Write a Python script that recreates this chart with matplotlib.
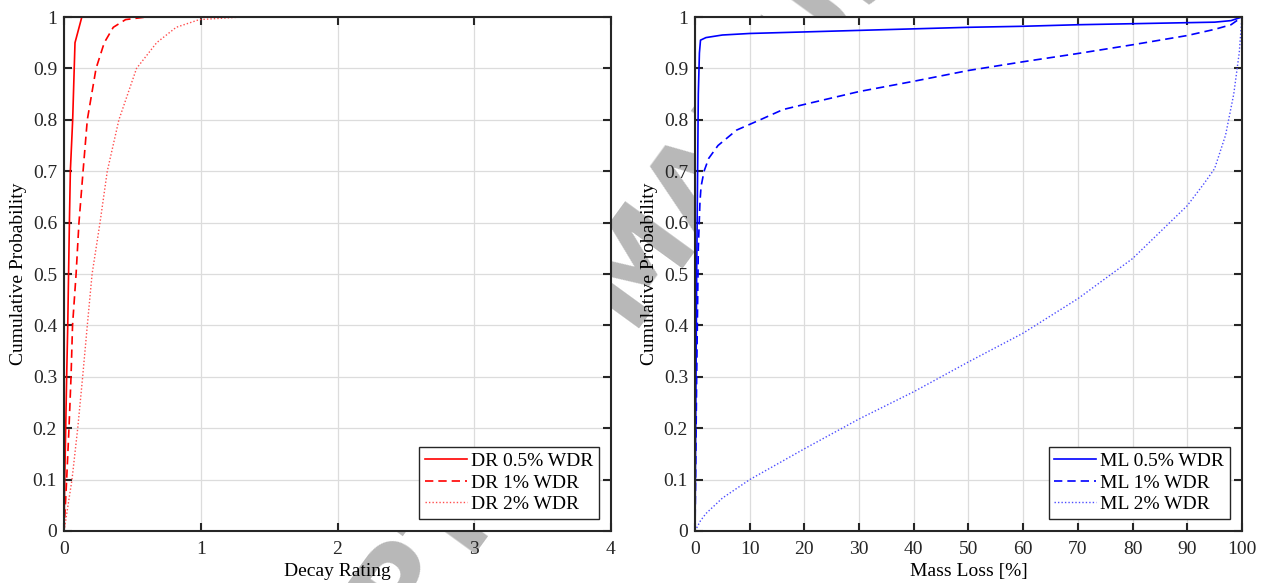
import matplotlib
matplotlib.use("Agg")
import matplotlib.pyplot as plt
from matplotlib.ticker import MultipleLocator

# decay rating CDFs (left panel)
dr_05_x = [0, 0.005, 0.012, 0.019, 0.027, 0.033, 0.039, 0.046, 0.063, 0.08, 0.13, 4]
dr_05_y = [0, 0.1, 0.2, 0.3, 0.4, 0.5, 0.6, 0.7, 0.8, 0.95, 1.0, 1.0]
dr_1_x = [0, 0.019, 0.036, 0.051, 0.062, 0.088, 0.109, 0.139, 0.17, 0.234, 0.294, 0.36, 0.45, 0.6, 4]
dr_1_y = [0, 0.1, 0.2, 0.3, 0.4, 0.5, 0.6, 0.7, 0.8, 0.9, 0.95, 0.98, 0.995, 1.0, 1.0]
dr_2_x = [0, 0.058, 0.10, 0.136, 0.17, 0.205, 0.263, 0.316, 0.401, 0.53, 0.677, 0.82, 0.99, 1.3, 4]
dr_2_y = [0, 0.1, 0.2, 0.3, 0.4, 0.5, 0.6, 0.7, 0.8, 0.9, 0.95, 0.98, 0.995, 1.0, 1.0]

# mass loss CDFs (right panel)
ml_05_x = [0, 0.3, 0.6, 0.8, 1.0, 2, 5, 10, 20, 30, 40, 50, 60, 70, 80, 90, 95, 98, 100]
ml_05_y = [0, 0.5, 0.85, 0.93, 0.955, 0.96, 0.965, 0.968, 0.971, 0.974, 0.977, 0.980,
           0.982, 0.985, 0.987, 0.989, 0.990, 0.993, 1.0]
ml_1_x = [0, 0.3, 0.6, 0.9, 1.1, 1.65, 2.5, 4.2, 7.6, 11.9, 16.1, 20, 30, 40, 50, 60, 70,
          80, 90, 95, 98, 100]
ml_1_y = [0, 0.3, 0.55, 0.64, 0.67, 0.70, 0.725, 0.75, 0.78, 0.80, 0.82, 0.83, 0.855, 0.875,
          0.896, 0.913, 0.929, 0.946, 0.964, 0.976, 0.985, 1.0]
ml_2_x = [0, 1, 2, 5, 10, 20, 30, 40, 50, 60, 70, 80, 90, 93, 95, 97, 98.5, 99.5, 100]
ml_2_y = [0, 0.02, 0.034, 0.064, 0.1, 0.16, 0.218, 0.271, 0.329, 0.385, 0.452, 0.53, 0.633,
          0.675, 0.705, 0.77, 0.85, 0.93, 1.0]

dr_labels = ["DR 0.5% WDR", "DR 1% WDR", "DR 2% WDR"]
ml_labels = ["ML 0.5% WDR", "ML 1% WDR", "ML 2% WDR"]

plt.rcParams.update({
    "font.family": "serif",
    "font.serif": ["Liberation Serif", "DejaVu Serif"],
    "font.size": 14,
    "xtick.direction": "in",
    "ytick.direction": "in",
    "xtick.top": True,
    "ytick.right": True,
    "axes.linewidth": 1.5,
    "axes.edgecolor": "#262626",
    "xtick.color": "#262626",
    "ytick.color": "#262626",
})


def tick_fmt(v, _pos):
    if abs(v) < 1e-9 or abs(v - 1) < 1e-9:
        return f"{v:.0f}"
    return f"{v:.1f}"


def style(ax, xmax, xstep, xlabel):
    ax.set_xlim(0, xmax)
    ax.set_ylim(0, 1)
    ax.xaxis.set_major_locator(MultipleLocator(xstep))
    ax.yaxis.set_major_locator(MultipleLocator(0.1))
    ax.yaxis.set_major_formatter(tick_fmt)
    ax.tick_params(length=6, width=1.5, labelsize=14)
    ax.tick_params(axis="x", pad=7.5)
    ax.tick_params(axis="y", pad=5)
    ax.grid(True, color="#dcdcdc", linewidth=0.9)
    ax.set_axisbelow(True)
    ax.set_xlabel(xlabel, fontsize=14, labelpad=3)
    ax.set_ylabel("Cumulative Probability", fontsize=14, labelpad=4)
    leg = ax.legend(loc="lower right", fontsize=14, fancybox=False, framealpha=1,
                    edgecolor="#262626", borderaxespad=0.62, handlelength=2.15,
                    handletextpad=0.2, labelspacing=0.2, borderpad=0.3)
    leg.get_frame().set_linewidth(1.0)


fig = plt.figure(figsize=(12.66, 5.83), dpi=100)
# watermark sits behind the axes, as in the source figure
fig.text(0.513, 0.554, "ACCEPTED MANUSCRIPT", rotation=54, fontsize=84, fontweight="bold",
         family="DejaVu Sans", color="#b8b8b8", ha="center", va="center", zorder=-1)

ax1 = fig.add_axes([0.0506, 0.0892, 0.432, 0.8816])
ax1.plot(dr_05_x, dr_05_y, color="red", lw=1.2, ls="-", label=dr_labels[0])
ax1.plot(dr_1_x, dr_1_y, color="red", lw=1.2, ls=(0, (5, 3)), label=dr_labels[1])
ax1.plot(dr_2_x, dr_2_y, color="#ff4d4d", lw=1.0, ls=(0, (1, 1.5)), label=dr_labels[2])
style(ax1, 4, 1, "Decay Rating")

ax2 = fig.add_axes([0.549, 0.0892, 0.432, 0.8816])
ax2.plot(ml_05_x, ml_05_y, color="blue", lw=1.2, ls="-", label=ml_labels[0])
ax2.plot(ml_1_x, ml_1_y, color="blue", lw=1.2, ls=(0, (5, 3)), label=ml_labels[1])
ax2.plot(ml_2_x, ml_2_y, color="#4d4dff", lw=1.0, ls=(0, (1, 1.5)), label=ml_labels[2])
style(ax2, 100, 10, "Mass Loss [%]")

fig.savefig("out.png", dpi=100)
